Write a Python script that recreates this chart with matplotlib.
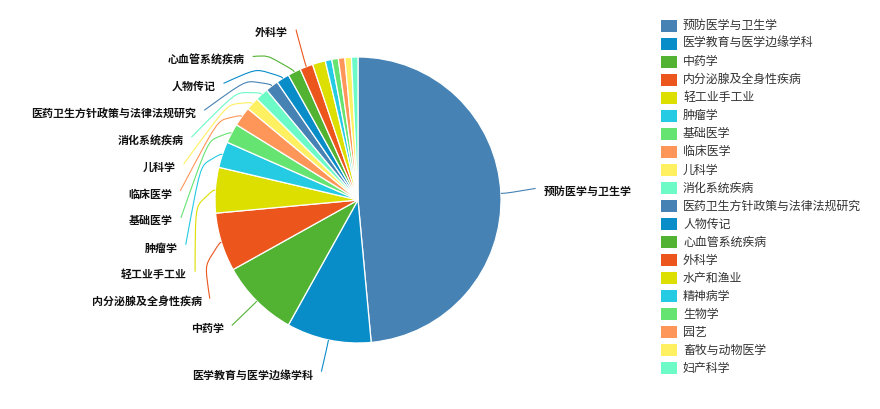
import numpy as np
import matplotlib
matplotlib.use("Agg")
import matplotlib.pyplot as plt
from matplotlib.path import Path
from matplotlib.patches import PathPatch, Rectangle

plt.rcParams["font.family"] = ["Noto Sans CJK SC", "DejaVu Sans"]

# Subject categories, ordered by size
categories = [
    "预防医学与卫生学", "医学教育与医学边缘学科", "中药学", "内分泌腺及全身性疾病",
    "轻工业手工业", "肿瘤学", "基础医学", "临床医学", "儿科学", "消化系统疾病",
    "医药卫生方针政策与法律法规研究", "人物传记", "心血管系统疾病", "外科学",
    "水产和渔业", "精神病学", "生物学", "园艺", "畜牧与动物医学", "妇产科学",
]
counts = [66, 13, 12, 9, 7, 4, 3, 3, 2, 2, 2, 2, 2, 2, 2, 1, 1, 1, 1, 1]
palette = ["#4682b4", "#088dc9", "#52b333", "#ec561d", "#dcdf00",
           "#24cbe3", "#66e472", "#ff9659", "#fff061", "#6cfac6"]
n_labeled = 14  # outer labels only for the larger slices

W, H = 880, 409
fig = plt.figure(figsize=(W / 100, H / 100), dpi=100)
ax = fig.add_axes([0, 0, 1, 1])

# work in pixel units (y measured downward from the top edge)
def P(x, y):
    return (x, H - y)

cx, cy = 358.0, 200.0
R = 143.0
R_ELBOW = 163.0
R_LABEL = 179.0
R_ANCHOR = 178.0
ROW = 26.9
TEXT_PAD = 8.0
TEXT_DY = 3.5

colors = [palette[i % len(palette)] for i in range(len(categories))]

wedges, _ = ax.pie(counts, colors=colors, startangle=90, counterclock=False,
                   center=P(cx, cy), radius=R, frame=True,
                   wedgeprops=dict(edgecolor="white", linewidth=0.9))

total = float(sum(counts))
cum = np.cumsum([0] + counts[:-1])
mids = np.radians(360.0 * (cum + np.array(counts) / 2.0) / total)  # clockwise from top

def polar(theta, r):
    return cx + r * np.sin(theta), cy - r * np.cos(theta)

# natural label heights, then push overlapping labels downward on each side
label_y = {}
for side in (-1, 1):
    idx = [i for i in range(n_labeled) if np.sign(np.sin(mids[i])) == side]
    idx.sort(key=lambda i: cy - R_LABEL * np.cos(mids[i]))
    last = -1e9
    for i in idx:
        y = max(cy - R_LABEL * np.cos(mids[i]), last + ROW)
        label_y[i] = y
        last = y

def guide_path(p0, p1, p2, smooth=0.9):
    p0, p1, p2 = map(np.asarray, (p0, p1, p2))
    l1 = np.linalg.norm(p0 - p1)
    l2 = np.linalg.norm(p2 - p1)
    m = min(l1, l2) * smooth
    m0 = p1 + (p0 - p1) * (m / l1)
    m2 = p1 + (p2 - p1) * (m / l2)
    m1 = (m0 + m2) / 2
    verts = [p0, m0, m0, m1, m2, m2, p2]
    codes = [Path.MOVETO] + [Path.CURVE4] * 6
    return Path([tuple(v) for v in verts], codes)

for i in range(n_labeled):
    th = mids[i]
    side = 1 if np.sin(th) > 0 else -1
    ty = label_y[i]
    ay = ty - TEXT_DY
    dy = ay - cy
    ex, ey = polar(th, R_ELBOW)
    if abs(dy) < R_ELBOW:
        ax_ = cx + side * np.sqrt(R_ANCHOR ** 2 - dy ** 2)
    else:
        ax_ = ex + side * 3
    p0 = P(*polar(th, R))
    p1 = P(ex, ey)
    p2 = P(ax_, ay)
    ax.add_patch(PathPatch(guide_path(p0, p1, p2), fill=False,
                           edgecolor=colors[i], linewidth=0.8, zorder=1))
    ax.text(ax_ + side * TEXT_PAD, H - ty, categories[i],
            ha="left" if side > 0 else "right", va="center",
            fontsize=7.9, color="#111111", fontweight="bold")

# legend column
LEG_X, LEG_Y0, LEG_STEP = 661.0, 25.5, 18.05
for i, (name, col) in enumerate(zip(categories, colors)):
    yc = LEG_Y0 + LEG_STEP * i
    ax.add_patch(Rectangle(P(LEG_X, yc + 6), 16, 12, facecolor=col,
                           edgecolor="none"))
    ax.text(LEG_X + 22, H - yc, name, ha="left", va="center",
            fontsize=8.6, color="#333333")

ax.set_xlim(0, W)
ax.set_ylim(0, H)
ax.set_aspect("equal")
ax.axis("off")
fig.savefig("out.png", dpi=100)
